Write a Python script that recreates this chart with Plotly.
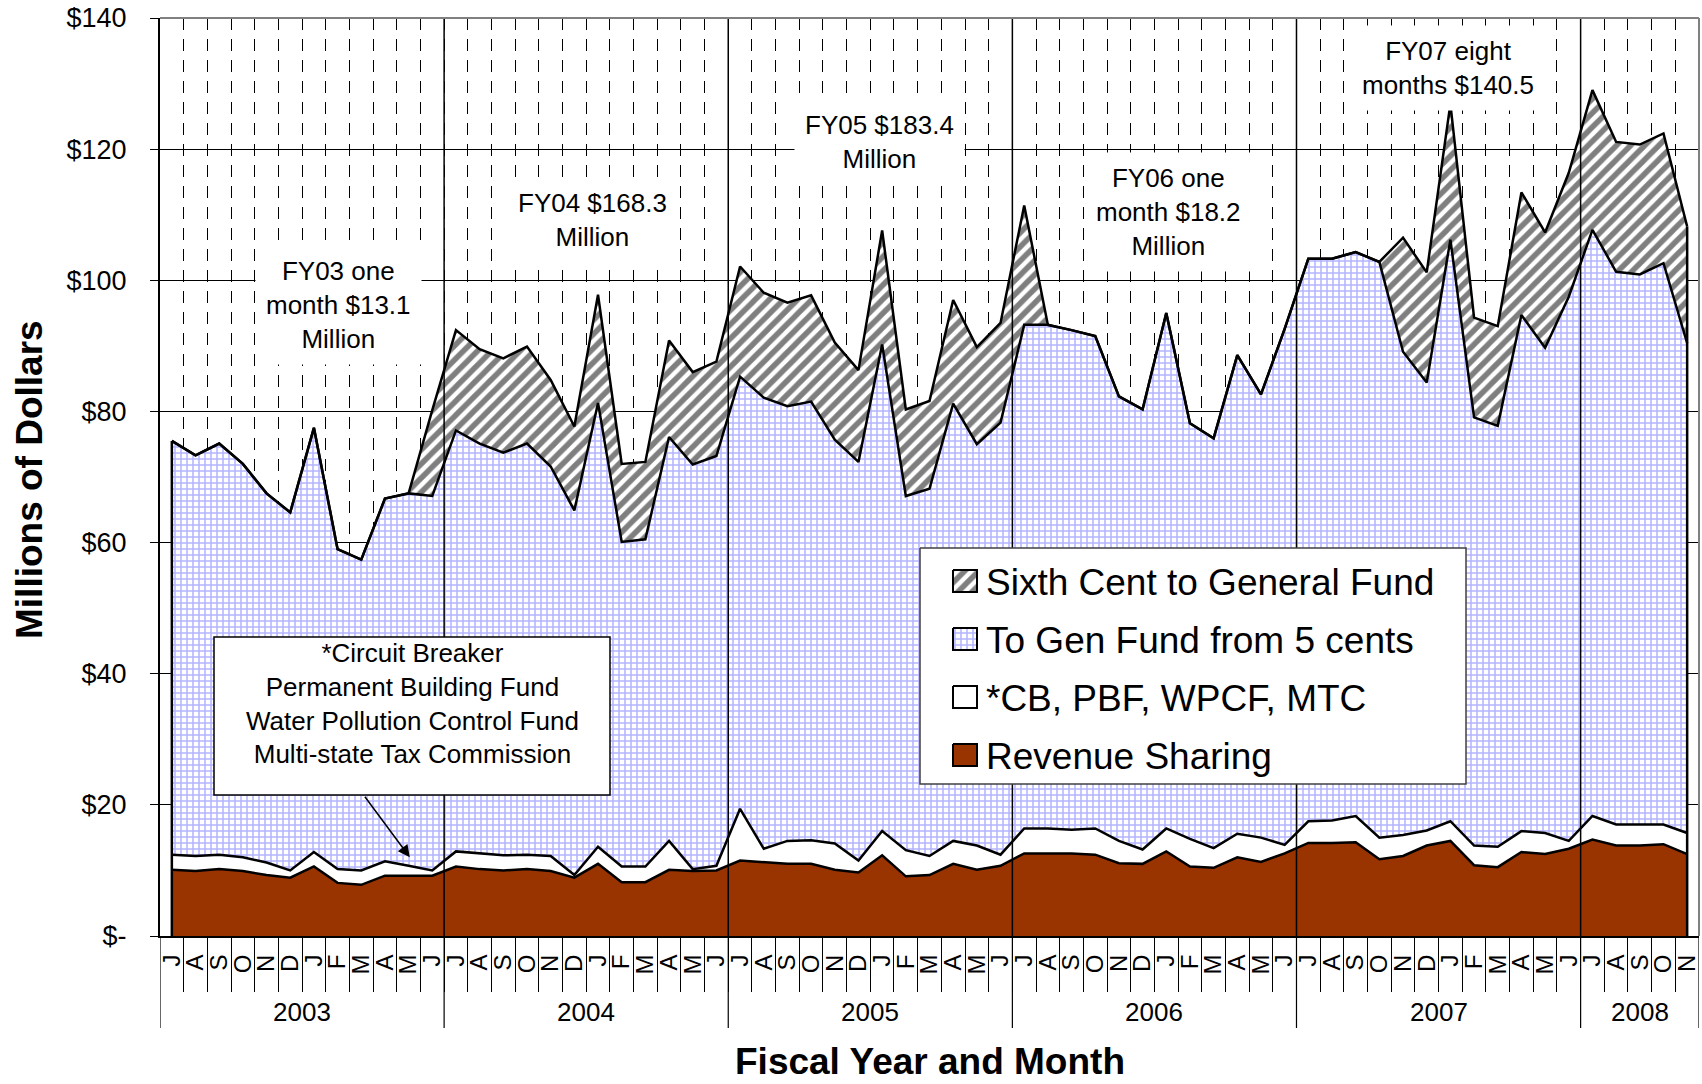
import plotly.graph_objects as go

# fiscal-year months (Jul .. Jun), FY2003 - FY2007 plus first five months of FY2008
month_labels = list("JASONDJFMAMJ") * 5 + list("JASON")
year_labels = ["2003", "2004", "2005", "2006", "2007", "2008"]
year_lengths = [12, 12, 12, 12, 12, 5]

# millions of dollars per month
revenue_sharing = [
    10.1, 9.9, 10.2, 9.9, 9.3, 8.9, 10.6, 8.1, 7.8, 9.2, 9.2, 9.2,
    10.6, 10.2, 10.0, 10.2, 9.9, 8.9, 11.0, 8.2, 8.2, 10.1, 9.9, 10.0,
    11.5, 11.2, 11.0, 11.0, 10.1, 9.7, 12.3, 9.1, 9.3, 11.0, 10.1, 10.7,
    12.6, 12.6, 12.6, 12.4, 11.1, 11.0, 12.9, 10.6, 10.4, 12.0, 11.3, 12.6,
    14.2, 14.2, 14.3, 11.7, 12.2, 13.8, 14.5, 10.8, 10.5, 12.8, 12.5, 13.3,
    14.7, 13.8, 13.8, 14.0, 12.5,
]
cb_pbf_wpcf_mtc = [
    2.3, 2.3, 2.2, 2.1, 1.9, 1.1, 2.2, 2.1, 2.2, 2.2, 1.5, 0.8,
    2.3, 2.4, 2.3, 2.2, 2.3, 0.4, 2.6, 2.4, 2.4, 4.4, 0.3, 0.7,
    7.9, 2.1, 3.5, 3.6, 4.0, 1.8, 3.7, 4.0, 2.9, 3.5, 3.7, 1.7,
    3.8, 3.8, 3.6, 4.0, 3.4, 2.2, 3.5, 4.2, 3.0, 3.6, 3.7, 1.3,
    3.3, 3.4, 4.0, 3.3, 3.2, 2.3, 3.0, 3.0, 3.1, 3.2, 3.2, 1.2,
    3.6, 3.2, 3.2, 3.0, 3.2,
]
gen_fund_5_cents = [
    63.1, 61.1, 62.7, 60.0, 56.3, 54.6, 64.7, 48.8, 47.4, 55.3, 56.8, 57.1,
    64.2, 62.5, 61.4, 62.7, 59.4, 55.6, 67.7, 49.5, 49.9, 61.6, 61.7, 62.5,
    65.9, 68.8, 66.3, 66.9, 61.6, 60.8, 74.2, 54.0, 56.0, 66.7, 61.2, 65.9,
    76.8, 76.8, 76.2, 75.1, 67.8, 67.1, 78.6, 63.4, 62.5, 73.0, 67.6, 78.7,
    85.8, 85.7, 86.0, 87.8, 73.7, 68.3, 88.7, 65.3, 64.2, 78.7, 74.0, 83.0,
    89.4, 84.3, 83.9, 85.6, 74.7,
]
sixth_cent = [
    0, 0, 0, 0, 0, 0, 0, 0, 0, 0, 0, 13.1,
    15.3, 14.4, 14.4, 14.8, 13.2, 12.8, 16.5, 11.9, 11.8, 14.7, 14.1, 14.4,
    16.8, 16.0, 15.8, 16.2, 14.8, 14.0, 17.4, 13.2, 13.4, 15.8, 14.8, 15.2,
    18.2, 0, 0, 0, 0, 0, 0, 0, 0, 0, 0, 0,
    0, 0, 0, 0, 17.4, 16.8, 20.7, 15.2, 15.2, 18.7, 17.6, 18.9,
    21.3, 19.8, 19.8, 19.8, 17.8,
]

FONT = "Liberation Sans, Arial, sans-serif"
W, H = 1702, 1084
L, R, T, B = 160, 3, 18, 148
PW, PH = W - L - R, H - T - B
YMAX = 140

x = list(range(len(month_labels)))
n = len(x)


def px_x(px):
    return (px - L) / PW


def px_y(py):
    return (H - B - py) / PH


def dx(px):
    # page pixel -> x data units
    return -0.5 + px_x(px) * n


def dy(py):
    return px_y(py) * YMAX


brick = dict(shape="+", fgcolor="#6a6aff", bgcolor="white", size=6, solidity=0.45)
hatch = dict(shape="/", fgcolor="black", bgcolor="white", size=10, solidity=0.55)

series = [
    ("Revenue Sharing", revenue_sharing, dict(fillcolor="#993300")),
    ("*CB, PBF, WPCF, MTC", cb_pbf_wpcf_mtc, dict(fillcolor="white")),
    ("To Gen Fund from 5 cents", gen_fund_5_cents, dict(fillcolor="white", fillpattern=brick)),
    ("Sixth Cent to General Fund", sixth_cent, dict(fillcolor="white", fillpattern=hatch)),
]

fig = go.Figure()
for name, vals, style in series:
    fig.add_trace(go.Scatter(
        x=x, y=vals, name=name, mode="lines", stackgroup="one",
        line=dict(color="black", width=2.5), hoverinfo="skip", **style,
    ))

# fiscal year boundaries drawn over the areas
bounds = [-0.5]
for k in year_lengths:
    bounds.append(bounds[-1] + k)
for b in bounds[1:-1]:
    fig.add_trace(go.Scatter(x=[b, b], y=[0, YMAX], mode="lines", showlegend=False,
                             hoverinfo="skip", line=dict(color="black", width=1.5)))

# legend box, drawn by hand so the swatches are squares with the fill patterns
lx0, lx1, ly0, ly1 = 920, 1466, 548, 784
fig.add_trace(go.Scatter(
    x=[dx(lx0), dx(lx1), dx(lx1), dx(lx0), dx(lx0)],
    y=[dy(ly0), dy(ly0), dy(ly1), dy(ly1), dy(ly0)],
    mode="lines", fill="toself", fillcolor="white", showlegend=False, hoverinfo="skip",
    line=dict(color="#404040", width=1.5)))

row_y = [581, 639, 697, 755]
annotations = []
for (name, _, style), ry in zip(reversed(series), row_y):
    sx0, sx1 = 953, 977
    fig.add_trace(go.Scatter(
        x=[dx(sx0), dx(sx1), dx(sx1), dx(sx0), dx(sx0)],
        y=[dy(ry - 11), dy(ry - 11), dy(ry + 11), dy(ry + 11), dy(ry - 11)],
        mode="lines", fill="toself", showlegend=False, hoverinfo="skip",
        line=dict(color="black", width=2), **style))
    annotations.append(dict(text=name, x=px_x(984), y=px_y(ry + 1), xref="paper", yref="paper",
                            xanchor="left", yanchor="middle", showarrow=False,
                            font=dict(family=FONT, size=37, color="black")))

totals = [sum(v) for v in zip(revenue_sharing, cb_pbf_wpcf_mtc, gen_fund_5_cents, sixth_cent)]

shapes = []
# end edges of the stacked areas
for xi in (0, n - 1):
    shapes.append(dict(type="line", xref="x", yref="y", x0=xi, x1=xi, y0=0, y1=totals[xi],
                       line=dict(color="black", width=2.5)))

# year separators below the axis
for b in bounds:
    shapes.append(dict(type="line", xref="x", yref="paper", x0=b, x1=b, y0=-92 / PH, y1=0,
                       line=dict(color="black", width=1.2)))

# plot frame top and right
shapes.append(dict(type="line", xref="paper", yref="paper", x0=0, x1=1, y0=1, y1=1,
                   line=dict(color="#808080", width=2)))
shapes.append(dict(type="line", xref="paper", yref="paper", x0=1, x1=1, y0=0, y1=1,
                   line=dict(color="#808080", width=2)))

# footnote box
shapes.append(dict(type="rect", xref="paper", yref="paper",
                   x0=px_x(214), x1=px_x(610), y0=px_y(795), y1=px_y(637),
                   line=dict(color="black", width=1.5), fillcolor="white"))

notes = [
    ("FY03 one<br>month $13.1<br>Million", 7.05, 96.2),
    ("FY04 $168.3<br>Million", 17.76, 109.2),
    ("FY05 $183.4<br>Million", 29.9, 121.1),
    ("FY06 one<br>month $18.2<br>Million", 42.1, 110.4),
    ("FY07 eight<br>months $140.5", 53.9, 132.3),
]
for text, xa, ya in notes:
    annotations.append(dict(text=text, x=xa, y=ya, xref="x", yref="y", showarrow=False,
                            xanchor="center", yanchor="middle",
                            font=dict(family=FONT, size=26, color="black"),
                            bgcolor="white", borderpad=10))

annotations.append(dict(
    text="*Circuit Breaker<br>Permanent Building Fund<br>Water Pollution Control Fund<br>Multi-state Tax Commission",
    x=px_x(412), y=px_y(704), xref="paper", yref="paper", xanchor="center", yanchor="middle",
    showarrow=False, font=dict(family=FONT, size=26, color="black")))
annotations.append(dict(
    text="", x=10.05, y=12.0, xref="x", yref="y", showarrow=True,
    ax=-46, ay=-62, arrowhead=2, arrowsize=1.6, arrowwidth=1.5, arrowcolor="black"))

# fiscal year labels under the month letters
for label, b0, k in zip(year_labels, bounds[:-1], year_lengths):
    annotations.append(dict(text=label, x=b0 + k / 2, y=px_y(1012), xref="x", yref="paper",
                            xanchor="center", yanchor="middle", showarrow=False,
                            font=dict(family=FONT, size=26, color="black")))

annotations.append(dict(text="Fiscal Year and Month", x=px_x(930), y=px_y(1061),
                        xref="paper", yref="paper", xanchor="center", yanchor="middle",
                        showarrow=False,
                        font=dict(family=FONT, size=37, color="black", weight="bold")))
annotations.append(dict(text="Millions of Dollars", x=px_x(29), y=px_y(480), textangle=-90,
                        xref="paper", yref="paper", xanchor="center", yanchor="middle",
                        showarrow=False,
                        font=dict(family=FONT, size=37, color="black", weight="bold")))

yticks = list(range(0, YMAX + 1, 20))
fig.update_layout(
    width=W, height=H,
    margin=dict(l=L, r=R, t=T, b=B),
    paper_bgcolor="white", plot_bgcolor="white",
    font=dict(family=FONT, color="black"),
    shapes=shapes, annotations=annotations,
    showlegend=False,
    xaxis=dict(
        range=[-0.5, n - 0.5], tickmode="array", tickvals=x, ticktext=month_labels,
        tickangle=-90, tickfont=dict(family=FONT, size=24), ticks="", ticklabelstandoff=7,
        showgrid=False, zeroline=False, showline=True, linecolor="black", linewidth=2,
        minor=dict(tickvals=[i + 0.5 for i in range(n - 1)], ticks="outside", ticklen=54,
                   tickcolor="black", tickwidth=1, showgrid=True, gridcolor="black",
                   gridwidth=1, griddash="12px,9px"),
    ),
    yaxis=dict(
        range=[0, YMAX], tickmode="array", tickvals=yticks,
        ticktext=["$-"] + [f"${v}" for v in yticks[1:]],
        tickfont=dict(family=FONT, size=27), ticks="outside", ticklen=8,
        tickcolor="black", ticklabelstandoff=18,
        showgrid=True, gridcolor="black", gridwidth=1, zeroline=False,
        showline=True, linecolor="black", linewidth=2,
    ),
)

fig.write_html("out.html", config={"displayModeBar": False},
               post_script="document.body.style.margin='0px';")
